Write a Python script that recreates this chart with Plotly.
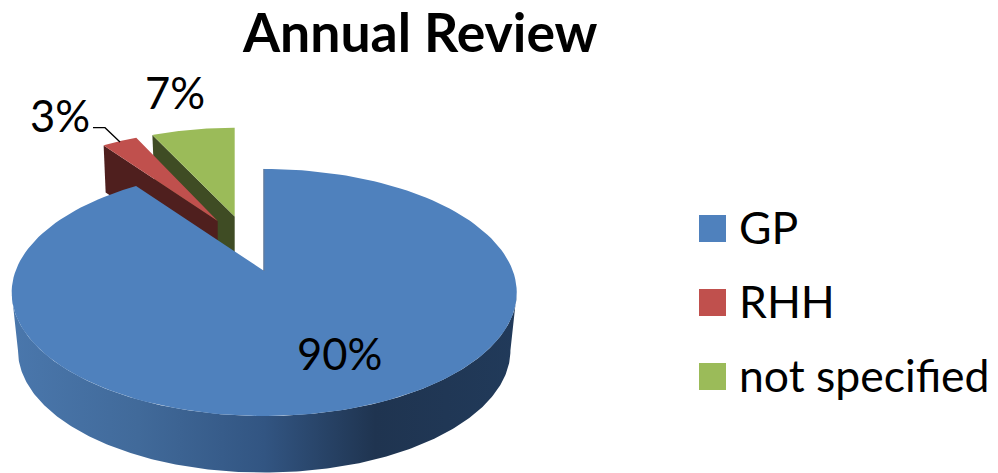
import numpy as np
import plotly.graph_objects as go

# ---- data ----
categories = ["GP", "RHH", "not specified"]
values = [90, 3, 7]
labels = ["90%", "3%", "7%"]

# ---- style ----
top_colors = ["#4F81BD", "#C0504D", "#9BBB59"]
wall_colors = [None, "#4F1F1E", "#3F4C24"]
FONT = "Lato"
CX, CY, RX, RY, K = 264.2, 271.0, 248.7, 119.8, 0.174
# per-slice explode offset and foreshortening (dx, dy, sx, sy, depth)
explode = [(0, 0, 1, 1, 58), (-46.5, -50, 0.89, 0.89, 47), (-29.5, -54.5, 0.9, 0.87, 47)]

edges = np.cumsum([0] + values) / sum(values) * 2 * np.pi


def delta(theta):
    u, v = np.sin(theta), np.cos(theta)
    s = 1 / (1 + K * v)
    return RX * u * s, -RY * v * s


def point(theta, i):
    dx, dy = delta(theta)
    ox, oy, sx, sy, _ = explode[i]
    return CX + ox + sx * dx, CY + oy + sy * dy


def sector(i):
    t = np.linspace(edges[i], edges[i + 1], 160)
    x, y = point(t, i)
    ax, ay = CX + explode[i][0], CY + explode[i][1]
    return np.r_[ax, x, ax], np.r_[ay, y, ay]


fig = go.Figure()


def poly(x, y, **kw):
    fig.add_trace(go.Scatter(x=x, y=y, mode="lines", fill="toself", line=dict(width=0),
                             hoverinfo="skip", showlegend=False, **kw))


# exploded slices, farthest first
for i in (2, 1):
    ax, ay = CX + explode[i][0], CY + explode[i][1]
    ex, ey = point(edges[i], i)
    d = explode[i][4]
    poly([ax, ex, ex + 2, ax, ax], [ay, ey, ey + d, ay + d, ay], fillcolor=wall_colors[i])
    x, y = sector(i)
    poly(x, y, fillcolor=top_colors[i])

# main slice: outer wall with side lighting
t = np.radians(np.linspace(100, 260, 240))
dx, dy = delta(t)
wx = np.r_[CX + dx, (CX + 0.975 * dx)[::-1]]
wy = np.r_[CY + dy, (CY + 58 + 0.99 * dy)[::-1]]
fig.add_trace(go.Scatter(
    x=wx, y=wy, mode="lines", fill="toself", line=dict(width=0), hoverinfo="skip", showlegend=False,
    fillgradient=dict(type="horizontal", colorscale=[
        [0, "#4A77AC"], [0.25, "#416A9A"], [0.5, "#325582"],
        [0.72, "#1F3450"], [1, "#213A5A"]]),
))
x, y = sector(0)
poly(x, y, fillcolor=top_colors[0])
# thin visible edge of the cut face
ex, ey = point(edges[0], 0)
fig.add_trace(go.Scatter(x=[ex - 0.3, CX - 0.3], y=[ey, CY], mode="lines", hoverinfo="skip", showlegend=False,
                         line=dict(color="#33557F", width=1)))

# leader line for the 3% label
fig.add_trace(go.Scatter(x=[120, 105, 93], y=[142, 127.7, 127.7], mode="lines", hoverinfo="skip",
                         showlegend=False, line=dict(color="black", width=1.3)))

# data labels
label_x = [339, 60, 175]
label_y = [353, 115, 91.5]
for lx, ly, txt in zip(label_x, label_y, labels):
    fig.add_annotation(x=lx, y=ly, text=txt, showarrow=False, xanchor="center", yanchor="middle",
                       font=dict(family=FONT, size=43.5, color="black"))

# legend
swatch_y = [228.5, 302.5, 376.5]
text_y = [226.5, 300.5, 374.5]
fig.add_trace(go.Scatter(x=[712.5] * 3, y=swatch_y, mode="markers", hoverinfo="skip", showlegend=False,
                         marker=dict(symbol="square", size=27, color=top_colors, line=dict(width=0))))
for ly, txt in zip(text_y, categories):
    fig.add_annotation(x=737, y=ly, text=txt, showarrow=False, xanchor="left", yanchor="middle",
                       font=dict(family=FONT, size=44.5, color="black"))

# chart title
fig.add_annotation(x=419.5, y=31, text="<b>Annual Review</b>", showarrow=False, xanchor="center", yanchor="middle",
                   font=dict(family=FONT, size=53.5, color="black"))

fig.update_layout(
    width=998, height=473, margin=dict(l=0, r=0, t=0, b=0),
    paper_bgcolor="white", plot_bgcolor="white", showlegend=False,
    xaxis=dict(range=[0, 998], visible=False, fixedrange=True),
    yaxis=dict(range=[473, 0], visible=False, fixedrange=True),
)
fig.write_html("out.html", config={"displayModeBar": False},
               post_script="document.body.style.margin='0';document.documentElement.style.overflow='hidden';")
